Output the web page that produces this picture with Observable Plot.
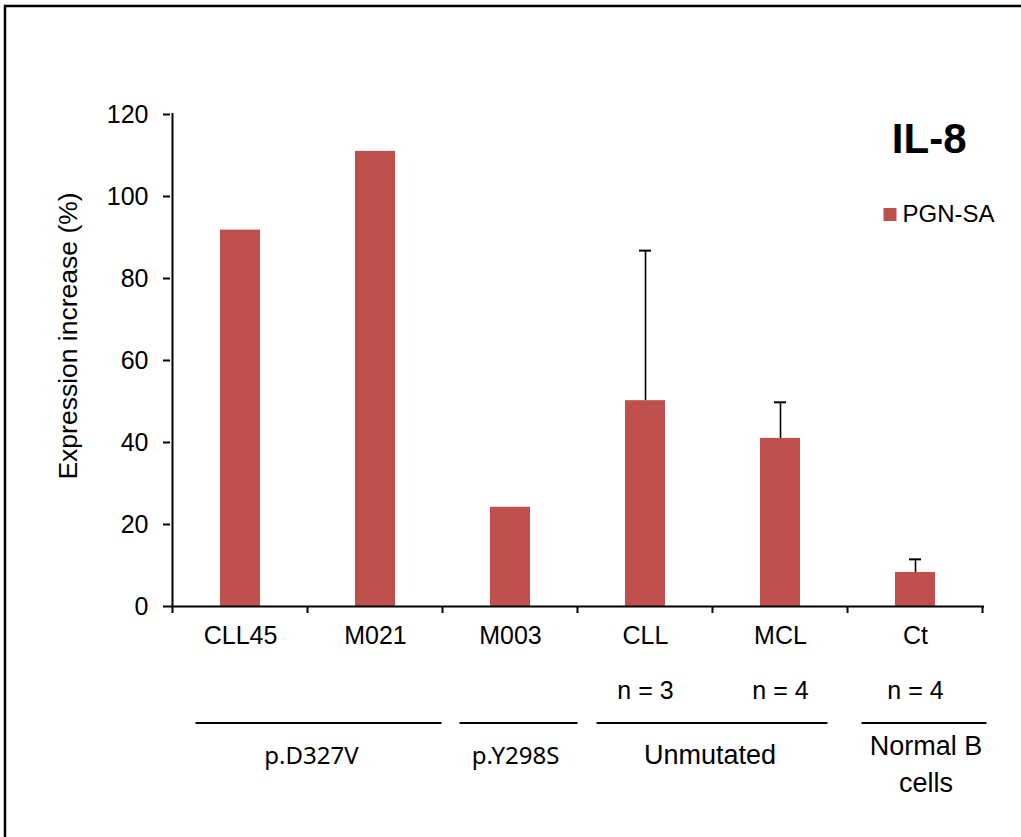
<!DOCTYPE html>
<html>
<head>
<meta charset="utf-8">
<script src="https://cdn.jsdelivr.net/npm/d3@7"></script>
<script src="https://cdn.jsdelivr.net/npm/@observablehq/plot@0.6"></script>
<style>
  body { margin: 0; background: white; }
  svg { display: block; }
</style>
</head>
<body>
<div id="chart"></div>
<script>
// ---- data ----
const categories = ["CLL45", "M021", "M003", "CLL", "MCL", "Ct"];
const values = [91.8, 111, 24.2, 50.2, 41, 8.3];
const errors = [null, null, null, 36.6, 8.8, 3.2];
const nLabels = ["", "", "", "n = 3", "n = 4", "n = 4"];
const groupNames = [["p.D327V"], ["p.Y298S"], ["Unmutated"], ["Normal B", "cells"]];
const groupFirst = ["CLL45", "M003", "CLL", "Ct"];
const groupLast = ["M021", "M003", "MCL", "Ct"];
const yTicks = [0, 20, 40, 60, 80, 100, 120];
const seriesName = "PGN-SA";
const chartTitle = "IL-8";
const yLabel = "Expression increase (%)";

// ---- styles ----
const barColor = "#C0504D";
const sans = "'Liberation Sans', Arial, sans-serif";
const groupFonts = ["'Noto Sans', sans-serif", "'Noto Sans', sans-serif", sans, sans];
const groupFontSizes = [24, 24, 27, 27];
const groupInsetL = [23, 17, 19, 14];
const groupInsetR = [1, 0, 20, -4];
const groupLabelShift = [-7, -3, -2, 2];

const data = categories.map((c, i) => ({cat: c, value: values[i], err: errors[i], n: nLabels[i]}));
const errData = data.filter(d => d.err != null);

const plot = Plot.plot({
  width: 1021,
  height: 837,
  marginLeft: 170,
  marginRight: 37,
  marginTop: 114,
  marginBottom: 231,
  style: {fontFamily: sans, fontSize: "25px", color: "black", background: "white"},
  x: {domain: categories, paddingInner: 0.705, paddingOuter: 0.3525, axis: null},
  y: {domain: [0, 120], axis: null},
  marks: [
    Plot.barY(data, {x: "cat", y: "value", fill: barColor}),
    Plot.ruleX(errData, {x: "cat", y1: "value", y2: d => d.value + d.err, stroke: "black", strokeWidth: 1.6}),
    Plot.tickY(errData, {x: "cat", y: d => d.value + d.err, stroke: "black", strokeWidth: 2, insetLeft: 14, insetRight: 14}),
    Plot.ruleY([0], {stroke: "black", strokeWidth: 2}),
    Plot.axisY({ticks: yTicks, tickSize: 7, tickPadding: 15, label: null, fontSize: 25, strokeWidth: 2}),
    Plot.axisX({tickSize: 0, tickPadding: 20, label: null, fontSize: 25}),
    Plot.text(data, {x: "cat", text: "n", frameAnchor: "bottom", dy: 92, fontSize: 25, lineAnchor: "bottom"})
  ]
});
document.getElementById("chart").appendChild(plot);

// ---- extra annotations built from the plot's scales ----
const svg = d3.select(plot);
const xs = plot.scale("x");
const ys = plot.scale("y");
const step = xs.step, bw = xs.bandwidth;
const bandLeft = c => xs.apply(c) - (step - bw) / 2;
const y0 = ys.apply(0);
const yTop = ys.apply(yTicks[yTicks.length - 1]);
const xLeft = bandLeft(categories[0]);
const xRight = bandLeft(categories[categories.length - 1]) + step;

const g = svg.append("g").attr("stroke", "black").attr("fill", "none");
// y axis line
g.append("line").attr("x1", xLeft).attr("x2", xLeft).attr("y1", yTop - 1).attr("y2", y0 + 1).attr("stroke-width", 2);
// category boundary ticks
const bounds = categories.map(bandLeft).concat([xRight]);
bounds.forEach(b => g.append("line").attr("x1", b).attr("x2", b).attr("y1", y0).attr("y2", y0 + 7).attr("stroke-width", 2));

// group lines and labels
groupNames.forEach((names, i) => {
  const x1 = bandLeft(groupFirst[i]) + groupInsetL[i];
  const x2 = bandLeft(groupLast[i]) + step - groupInsetR[i];
  const ly = y0 + 117;
  g.append("line").attr("x1", x1).attr("x2", x2).attr("y1", ly).attr("y2", ly).attr("stroke-width", 2);
  const cx = (x1 + x2) / 2 + groupLabelShift[i];
  const t = svg.append("text")
    .attr("x", cx)
    .attr("text-anchor", "middle")
    .attr("font-family", groupFonts[i])
    .attr("font-size", groupFontSizes[i])
    .attr("fill", "black");
  if (names.length === 1) {
    t.attr("y", y0 + 158).text(names[0]);
  } else {
    names.forEach((nm, k) => t.append("tspan").attr("x", cx).attr("y", y0 + 149 + k * 37).text(nm));
  }
});

// y axis title
svg.append("text")
  .attr("transform", `translate(${xLeft - 103},${(yTop + y0) / 2 - 24}) rotate(-90)`)
  .attr("text-anchor", "middle")
  .attr("dominant-baseline", "middle")
  .attr("font-family", sans)
  .attr("font-size", 26.5)
  .attr("fill", "black")
  .text(yLabel);

// title
svg.append("text")
  .attr("x", xRight - 16)
  .attr("y", yTop + 39)
  .attr("text-anchor", "end")
  .attr("font-family", sans)
  .attr("font-weight", "bold")
  .attr("font-size", 42)
  .attr("fill", "black")
  .text(chartTitle);

// legend
svg.append("rect")
  .attr("x", xRight - 99).attr("y", yTop + 94)
  .attr("width", 13).attr("height", 13)
  .attr("fill", barColor);
svg.append("text")
  .attr("x", xRight - 80).attr("y", yTop + 108)
  .attr("text-anchor", "start")
  .attr("font-family", sans)
  .attr("font-size", 24)
  .attr("fill", "black")
  .text(seriesName);

// outer frame (left and top edges, as in the reference)
svg.append("path")
  .attr("d", "M5,837V6H1021")
  .attr("fill", "none")
  .attr("stroke", "black")
  .attr("stroke-width", 2.5);
</script>
</body>
</html>
